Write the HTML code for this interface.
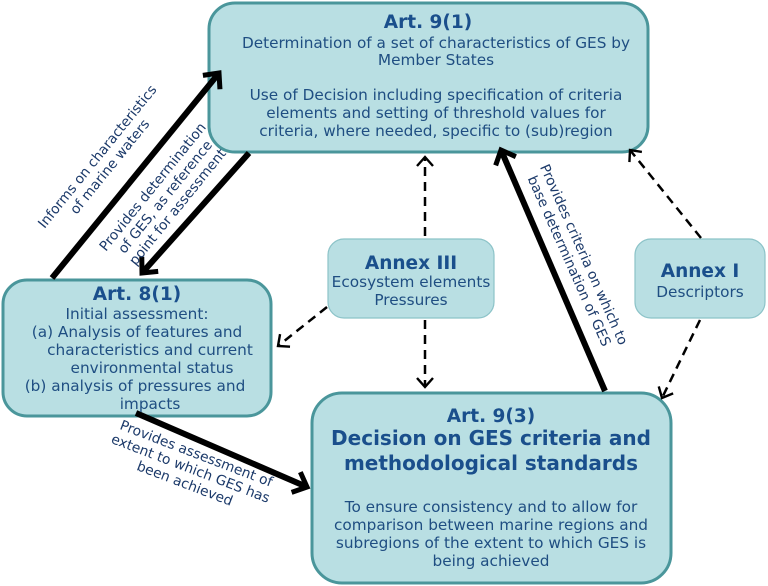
<!DOCTYPE html>
<html><head><meta charset="utf-8"><style>
html,body{margin:0;padding:0;background:#fff;}
svg{display:block;}
text{font-family:"DejaVu Sans","Liberation Sans",sans-serif;fill:#1f4e82;}
.t{font-weight:bold;fill:#1a4f8c;}
.b{font-size:15.3px;}
.l{font-size:13.8px;fill:#1c3a6a;}
</style></head><body>
<svg width="768" height="586" viewBox="0 0 768 586" xmlns="http://www.w3.org/2000/svg">
<defs>
<marker id="ah" markerWidth="30" markerHeight="30" refX="15" refY="15" orient="auto" markerUnits="userSpaceOnUse">
<path d="M3,4 L15,15 L3,26" fill="none" stroke="#000" stroke-width="5"/>
</marker>
<marker id="ad" markerWidth="24" markerHeight="24" refX="12" refY="12" orient="auto" markerUnits="userSpaceOnUse">
<path d="M3,4 L12,12 L3,20" fill="none" stroke="#000" stroke-width="2.4"/>
</marker>
</defs>
<rect x="209" y="3" width="439" height="149" rx="26" fill="#b9dfe3" stroke="#4a969b" stroke-width="3"/>
<rect x="3" y="280" width="268" height="136" rx="24" fill="#b9dfe3" stroke="#4a969b" stroke-width="3"/>
<rect x="328" y="239" width="166" height="79" rx="16" fill="#b9dfe3" stroke="#8cc3c8" stroke-width="1.2"/>
<rect x="635" y="239" width="130" height="79" rx="16" fill="#b9dfe3" stroke="#8cc3c8" stroke-width="1.2"/>
<rect x="312" y="393" width="359" height="190" rx="30" fill="#b9dfe3" stroke="#4a969b" stroke-width="3"/>

<line x1="52" y1="278" x2="219" y2="73" stroke="#000" stroke-width="6" marker-end="url(#ah)"/>
<line x1="249" y1="153" x2="142" y2="273" stroke="#000" stroke-width="6" marker-end="url(#ah)"/>
<line x1="136" y1="413" x2="307" y2="487" stroke="#000" stroke-width="6" marker-end="url(#ah)"/>
<line x1="605" y1="391" x2="501" y2="150" stroke="#000" stroke-width="6" marker-end="url(#ah)"/>

<g stroke="#000" stroke-width="2.5" stroke-dasharray="9,6" fill="none">
<line x1="425" y1="236" x2="425" y2="157" marker-end="url(#ad)"/>
<line x1="425" y1="320" x2="425" y2="387" marker-end="url(#ad)"/>
<line x1="327" y1="307" x2="278" y2="346" marker-end="url(#ad)"/>
<line x1="701" y1="238" x2="630" y2="150" marker-end="url(#ad)"/>
<line x1="700" y1="320" x2="662" y2="398" marker-end="url(#ad)"/>
</g>

<text x="428" y="28" text-anchor="middle" class="t" font-size="18.5">Art. 9(1)</text>
<text x="436" y="48" text-anchor="middle" class="b">Determination of a set of characteristics of GES by</text>
<text x="436" y="65" text-anchor="middle" class="b">Member States</text>
<text x="436" y="100" text-anchor="middle" class="b">Use of Decision including specification of criteria</text>
<text x="436" y="118" text-anchor="middle" class="b">elements and setting of threshold values for</text>
<text x="436" y="136" text-anchor="middle" class="b">criteria, where needed, specific to (sub)region</text>

<text x="137" y="300" text-anchor="middle" class="t" font-size="18.5">Art. 8(1)</text>
<text x="137" y="319" text-anchor="middle" class="b">Initial assessment:</text>
<text x="137" y="337" text-anchor="middle" class="b">(a) Analysis of features and</text>
<text x="150" y="355" text-anchor="middle" class="b">characteristics and current</text>
<text x="152" y="373" text-anchor="middle" class="b">environmental status</text>
<text x="135" y="391" text-anchor="middle" class="b">(b)  analysis of pressures and</text>
<text x="150" y="409" text-anchor="middle" class="b">impacts</text>

<text x="411" y="269" text-anchor="middle" class="t" font-size="18.5">Annex III</text>
<text x="411" y="287" text-anchor="middle" class="b">Ecosystem elements</text>
<text x="411" y="305" text-anchor="middle" class="b">Pressures</text>

<text x="700" y="277" text-anchor="middle" class="t" font-size="18.5">Annex I</text>
<text x="700" y="297" text-anchor="middle" class="b">Descriptors</text>

<text x="491" y="422" text-anchor="middle" class="t" font-size="18.5">Art. 9(3)</text>
<text x="491" y="445" text-anchor="middle" class="t" font-size="20">Decision on GES criteria and</text>
<text x="491" y="470" text-anchor="middle" class="t" font-size="20">methodological standards</text>
<text x="491" y="512" text-anchor="middle" class="b">To ensure consistency and to allow for</text>
<text x="491" y="530" text-anchor="middle" class="b">comparison between marine regions and</text>
<text x="491" y="548" text-anchor="middle" class="b">subregions of the extent to which GES is</text>
<text x="491" y="566" text-anchor="middle" class="b">being achieved</text>

<g transform="translate(104,162) rotate(-51)">
<text x="0" y="-4" text-anchor="middle" class="l">Informs on characteristics</text>
<text x="0" y="12" text-anchor="middle" class="l">of marine waters</text>
</g>
<g transform="translate(164,196) rotate(-51)">
<text x="0" y="-10" text-anchor="middle" class="l">Provides determination</text>
<text x="0" y="6" text-anchor="middle" class="l">of GES, as reference</text>
<text x="0" y="22" text-anchor="middle" class="l">point for assessment</text>
</g>
<g transform="translate(576,258) rotate(66)">
<text x="0" y="-4" text-anchor="middle" class="l">Provides criteria on which to</text>
<text x="0" y="12" text-anchor="middle" class="l">base determination of GES</text>
</g>
<g transform="translate(190,470) rotate(21)">
<text x="0" y="-13" text-anchor="middle" class="l">Provides assessment of</text>
<text x="0" y="3" text-anchor="middle" class="l">extent to which GES has</text>
<text x="0" y="19" text-anchor="middle" class="l">been achieved</text>
</g>
</svg>
</body></html>
